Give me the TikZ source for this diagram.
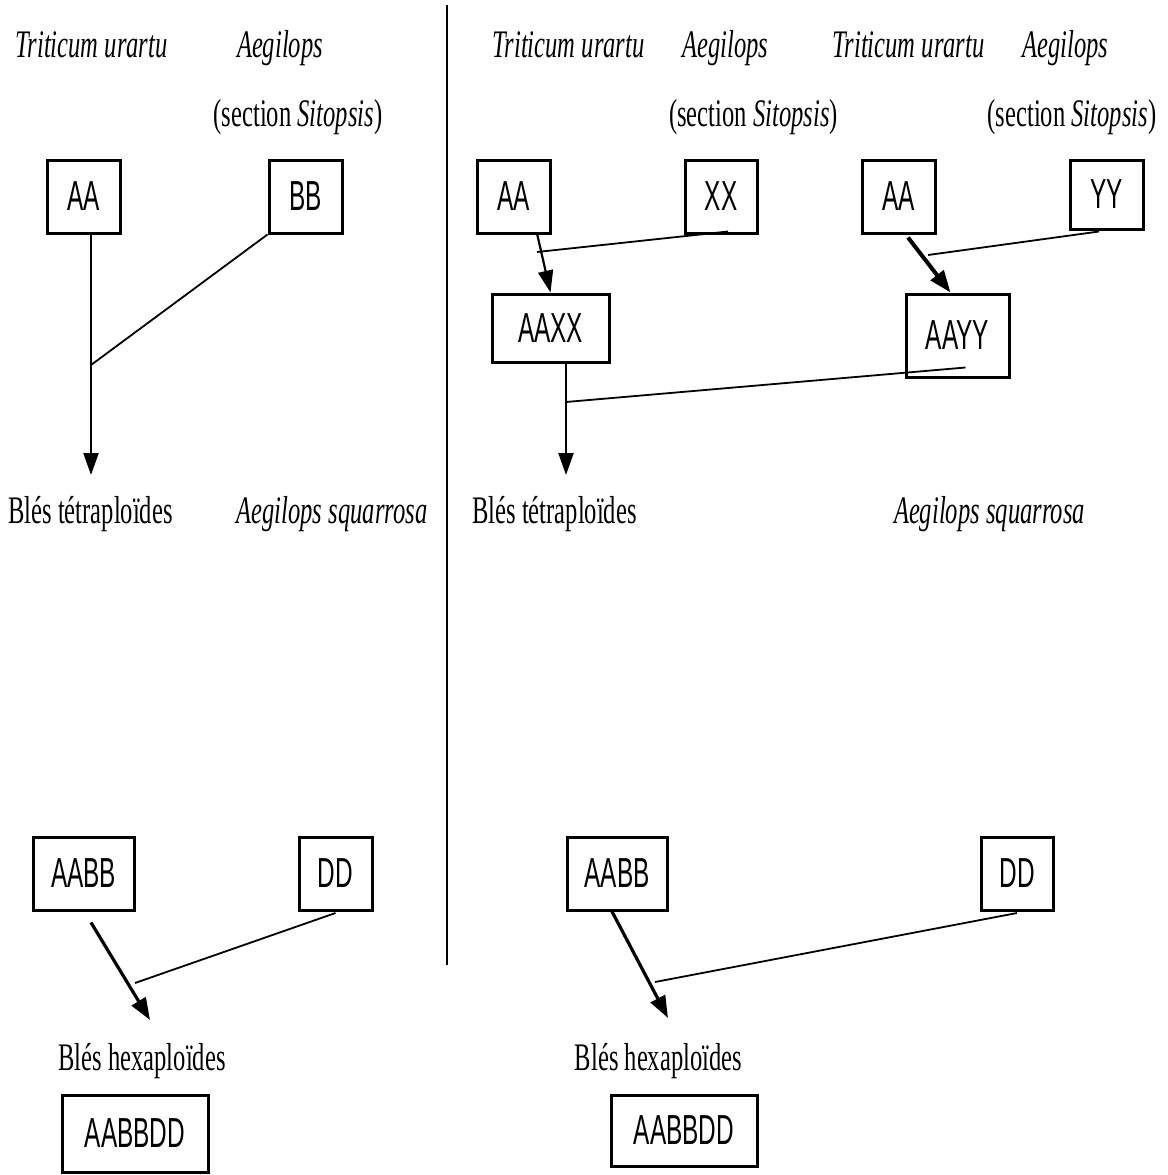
\documentclass[tikz,border=0pt]{standalone}
\usepackage{fontspec}
\setmainfont{Liberation Serif}[FakeStretch=0.63]
\newfontfamily\genomefont{Liberation Sans}[FakeStretch=0.58]
\usepackage{tikz}
\usetikzlibrary{arrows.meta,positioning}
\tikzset{
  genbox/.style={
    draw,
    line width=3pt,
    inner sep=0pt,
    align=center,
    font=\genomefont\fontsize{42}{46}\selectfont
  },
  taxon/.style={
    anchor=base,
    inner sep=0pt,
    font=\fontsize{39}{44}\selectfont\itshape
  },
  ploidy/.style={
    anchor=base,
    inner sep=0pt,
    font=\fontsize{39}{44}\selectfont
  },
  cross/.style={line width=1.8pt},
  arrow/.style={-{Triangle[length=22pt,width=15pt]}, line width=2.2pt},
  thickarrow/.style={-{Triangle[length=22pt,width=16pt]}, line width=3.2pt}
}

\begin{document}
\begin{tikzpicture}[x=1pt,y=-1pt]
  \useasboundingbox (0,0) rectangle (1167,1175);

  % left: one step
  \node[taxon] (tuL) at (91.5,57) {Triticum urartu};
  \node[taxon] (aeL) at (280,57) {Aegilops};
  \node[ploidy] (secL) at (298,126) {(section \textit{Sitopsis})};
  \node[genbox, minimum width=73pt, minimum height=73pt] (aaL) at (83.5,196.5) {AA};
  \node[genbox, minimum width=73pt, minimum height=73pt] (bbL) at (305.5,196.5) {BB};
  \node[ploidy] (tetraL) at (90.5,523) {Blés tétraploïdes};
  \node[taxon] (sqL) at (332,523) {Aegilops squarrosa};
  \node[genbox, minimum width=101pt, minimum height=73pt] (aabbL) at (83.5,873.5) {AABB};
  \node[genbox, minimum width=73pt, minimum height=73pt] (ddL) at (335.5,873.5) {DD};
  \node[ploidy] (hexaL) at (142,1070) {Blés hexaploïdes};
  \node[genbox, minimum width=146pt, minimum height=77pt] (aabbddL) at (135,1133.5) {AABBDD};

  \coordinate (tetraTipL) at (91,475);
  \coordinate (joinL) at (91,365);
  \coordinate (hexTipL) at (150,1020);
  \coordinate (joinHexL) at (135,983);

  \draw[arrow] ([xshift=7.5pt]aaL.south) -- (tetraTipL);
  \draw[cross] (bbL.south west) -- (joinL);
  \draw[thickarrow] ([shift={(7.5pt,-11pt)}]aabbL.south) -- (hexTipL);
  \draw[cross] ([yshift=-1.5pt]ddL.south) -- (joinHexL);

  % separator
  \draw[line width=2.4pt] (447,5) -- (447,965);

  % right: two steps
  \node[taxon] (tuR) at (568.5,57) {Triticum urartu};
  \node[taxon] (aeR) at (725.5,57) {Aegilops};
  \node[taxon] (tuRR) at (908.5,57) {Triticum urartu};
  \node[taxon] (aeRR) at (1065.5,57) {Aegilops};
  \node[ploidy] (secR) at (753.5,126) {(section \textit{Sitopsis})};
  \node[ploidy] (secRR) at (1072,126) {(section \textit{Sitopsis})};
  \node[genbox, minimum width=73pt, minimum height=73pt] (aaR) at (513.5,196.5) {AA};
  \node[genbox, minimum width=72pt, minimum height=73pt] (xx) at (721,196.5) {XX};
  \node[genbox, minimum width=73pt, minimum height=73pt] (aaRR) at (898.5,196.5) {AA};
  \node[genbox, minimum width=73pt, minimum height=69pt] (yy) at (1106.5,194.5) {YY};
  \node[genbox, minimum width=117pt, minimum height=68pt] (aaxx) at (550.5,328) {AAXX};
  \node[genbox, minimum width=103pt, minimum height=83pt] (aayy) at (957.5,335.5) {AAYY};
  \node[ploidy] (tetraR) at (554.5,523) {Blés tétraploïdes};
  \node[taxon] (sqR) at (989.5,523) {Aegilops squarrosa};
  \node[genbox, minimum width=100pt, minimum height=73pt] (aabbR) at (617,873.5) {AABB};
  \node[genbox, minimum width=72pt, minimum height=73pt] (ddR) at (1017,873.5) {DD};
  \node[ploidy] (hexaR) at (658.5,1070) {Blés hexaploïdes};
  \node[genbox, minimum width=146pt, minimum height=71pt] (aabbddR) at (684,1130.5) {AABBDD};

  \coordinate (joinX) at (537,252);
  \coordinate (joinY) at (928,255);
  \coordinate (tetraTipR) at (566,475);
  \coordinate (joinXY) at (566,402);
  \coordinate (hexTipR) at (668,1018);
  \coordinate (joinHexR) at (655,982);

  \draw[arrow] ([shift={(23.5pt,1pt)}]aaR.south) -- (aaxx.north);
  \draw[cross] ([shift={(7pt,3pt)}]xx.south) -- (joinX);
  \draw[thickarrow, line width=4pt] ([shift={(9.5pt,-3pt)}]aaRR.south) -- ([xshift=-7pt]aayy.north);
  \draw[cross] ([shift={(-7.5pt,-1pt)}]yy.south) -- (joinY);
  \draw[arrow] ([xshift=15.5pt]aaxx.south) -- (tetraTipR);
  \draw[cross] ([shift={(8pt,11pt)}]aayy.south) -- (joinXY);
  \draw[thickarrow] ([xshift=-5pt]aabbR.south) -- (hexTipR);
  \draw[cross] ([yshift=-1.5pt]ddR.south) -- (joinHexR);
\end{tikzpicture}
\end{document}
